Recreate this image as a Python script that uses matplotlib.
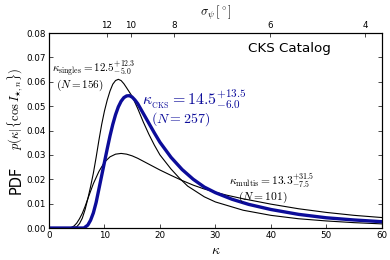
import matplotlib
matplotlib.use("Agg")
import matplotlib.pyplot as plt
import numpy as np

plt.rcParams['mathtext.fontset'] = 'cm'
plt.rcParams['font.family'] = 'DejaVu Sans'

# kappa grid and PDF values
k_singles = [0, 4, 5, 5.5, 6, 6.5, 7, 7.5, 8, 8.5, 9, 9.5, 10, 10.5, 11, 11.5, 12, 12.5, 13, 13.5, 14,
             15, 16, 17, 18, 19, 20, 22, 23.5, 25, 28, 30, 35, 40, 45, 50, 55, 60]
p_singles = [0, 0, 0.0005, 0.0018, 0.004, 0.0075, 0.012, 0.017, 0.0225, 0.029, 0.036, 0.0425, 0.048,
             0.0525, 0.0562, 0.0590, 0.0605, 0.0610, 0.0605, 0.0592, 0.0575, 0.0540, 0.0490, 0.0435,
             0.0385, 0.0340, 0.0300, 0.0242, 0.0205, 0.0172, 0.0128, 0.0107, 0.0073, 0.0052, 0.0038,
             0.0029, 0.0022, 0.0017]

k_multis = [0, 3.8, 4.5, 5, 5.5, 6, 6.5, 7, 8, 9, 10, 11, 12, 13, 14, 15, 16, 18, 20, 22, 24, 26, 28,
            30, 32, 35, 40, 45, 50, 55, 60]
p_multis = [0, 0, 0.0008, 0.002, 0.0038, 0.006, 0.0088, 0.012, 0.0182, 0.0232, 0.0270, 0.0292, 0.0303,
            0.0306, 0.0303, 0.0296, 0.0286, 0.0262, 0.0238, 0.0216, 0.0195, 0.0176, 0.0160, 0.0147,
            0.0135, 0.0120, 0.0098, 0.0079, 0.0064, 0.0052, 0.0043]

k_cks = [0, 6.3, 7, 7.5, 8, 8.5, 9, 9.5, 10, 10.5, 11, 11.5, 12, 12.5, 13, 13.5, 14, 14.5, 15, 15.5, 16,
         17, 18, 19, 20, 22, 24, 26, 28, 30, 33, 36, 40, 45, 50, 55, 60]
p_cks = [0, 0, 0.0012, 0.0032, 0.0062, 0.0105, 0.0160, 0.0215, 0.0270, 0.0325, 0.0378, 0.0425, 0.0465,
         0.0497, 0.0520, 0.0535, 0.0542, 0.0543, 0.0537, 0.0525, 0.0510, 0.0470, 0.0430, 0.0390,
         0.0352, 0.0290, 0.0240, 0.0200, 0.0168, 0.0145, 0.0118, 0.0097, 0.0076, 0.0056, 0.0042,
         0.0033, 0.0026]

# top axis: sigma_psi (degrees) tick labels and their kappa positions
sigma_labels = ['12', '10', '8', '6', '4']
sigma_kappa = [10.45, 14.7, 22.6, 39.9, 57.0]

blue = '#0c0c9a'

fig = plt.figure(figsize=(3.9, 2.6), dpi=100)
ax = fig.add_axes([0.1256, 0.123, 0.8534, 0.750])

ax.plot(k_singles, p_singles, color='black', lw=0.8)
ax.plot(k_multis, p_multis, color='black', lw=0.8)
ax.plot(k_cks, p_cks, color=blue, lw=2.4)

ax.set_xlim(0, 60)
ax.set_ylim(0, 0.08)
ax.set_xticks([0, 10, 20, 30, 40, 50, 60])
ax.set_yticks([0, 0.01, 0.02, 0.03, 0.04, 0.05, 0.06, 0.07, 0.08])
ax.set_yticklabels(['0.00', '0.01', '0.02', '0.03', '0.04', '0.05', '0.06', '0.07', '0.08'])
ax.tick_params(direction='in', labelsize=6.3, length=3, width=0.5, right=True, pad=2)
for s in ax.spines.values():
    s.set_linewidth(0.8)

ax.set_xlabel(r'$\kappa$', fontsize=10, labelpad=2)

ax2 = ax.twiny()
ax2.set_xlim(0, 60)
ax2.set_xticks(sigma_kappa)
ax2.set_xticklabels(sigma_labels)
ax2.tick_params(direction='in', labelsize=6.3, length=3, width=0.5, pad=2)
ax2.set_xlabel(r'$\sigma_\psi\,[^\circ]$', fontsize=9, labelpad=4)

# y label
fig.text(0.041, 0.31, 'PDF', rotation=90, fontsize=10.5, ha='center', va='center')
fig.text(0.042, 0.58, r'$p(\kappa|\{\cos I_{\star,n}\})$', rotation=90, fontsize=9,
         ha='center', va='center')

# annotations
ax.text(0.6, 0.0610, r'$\kappa_{\rm singles}=12.5^{+12.3}_{-5.0}$', fontsize=8, color='black',
        va='bottom')
ax.text(1.2, 0.0552, r'$(N=156)$', fontsize=8, color='black', va='bottom')

ax.text(16.8, 0.0482, r'$\kappa_{_{\rm CKS}}=14.5^{+13.5}_{-6.0}$', fontsize=11.5, color=blue,
        va='bottom')
ax.text(18.4, 0.0412, r'$(N=257)$', fontsize=10, color=blue, va='bottom')

ax.text(32.5, 0.0150, r'$\kappa_{\rm multis}=13.3^{+31.5}_{-7.5}$', fontsize=8.3, color='black',
        va='bottom')
ax.text(34.0, 0.0093, r'$(N=101)$', fontsize=8.3, color='black', va='bottom')

ax.text(43.3, 0.0738, 'CKS Catalog', fontsize=9.7, ha='center', va='center')

fig.savefig('out.png', dpi=100)
